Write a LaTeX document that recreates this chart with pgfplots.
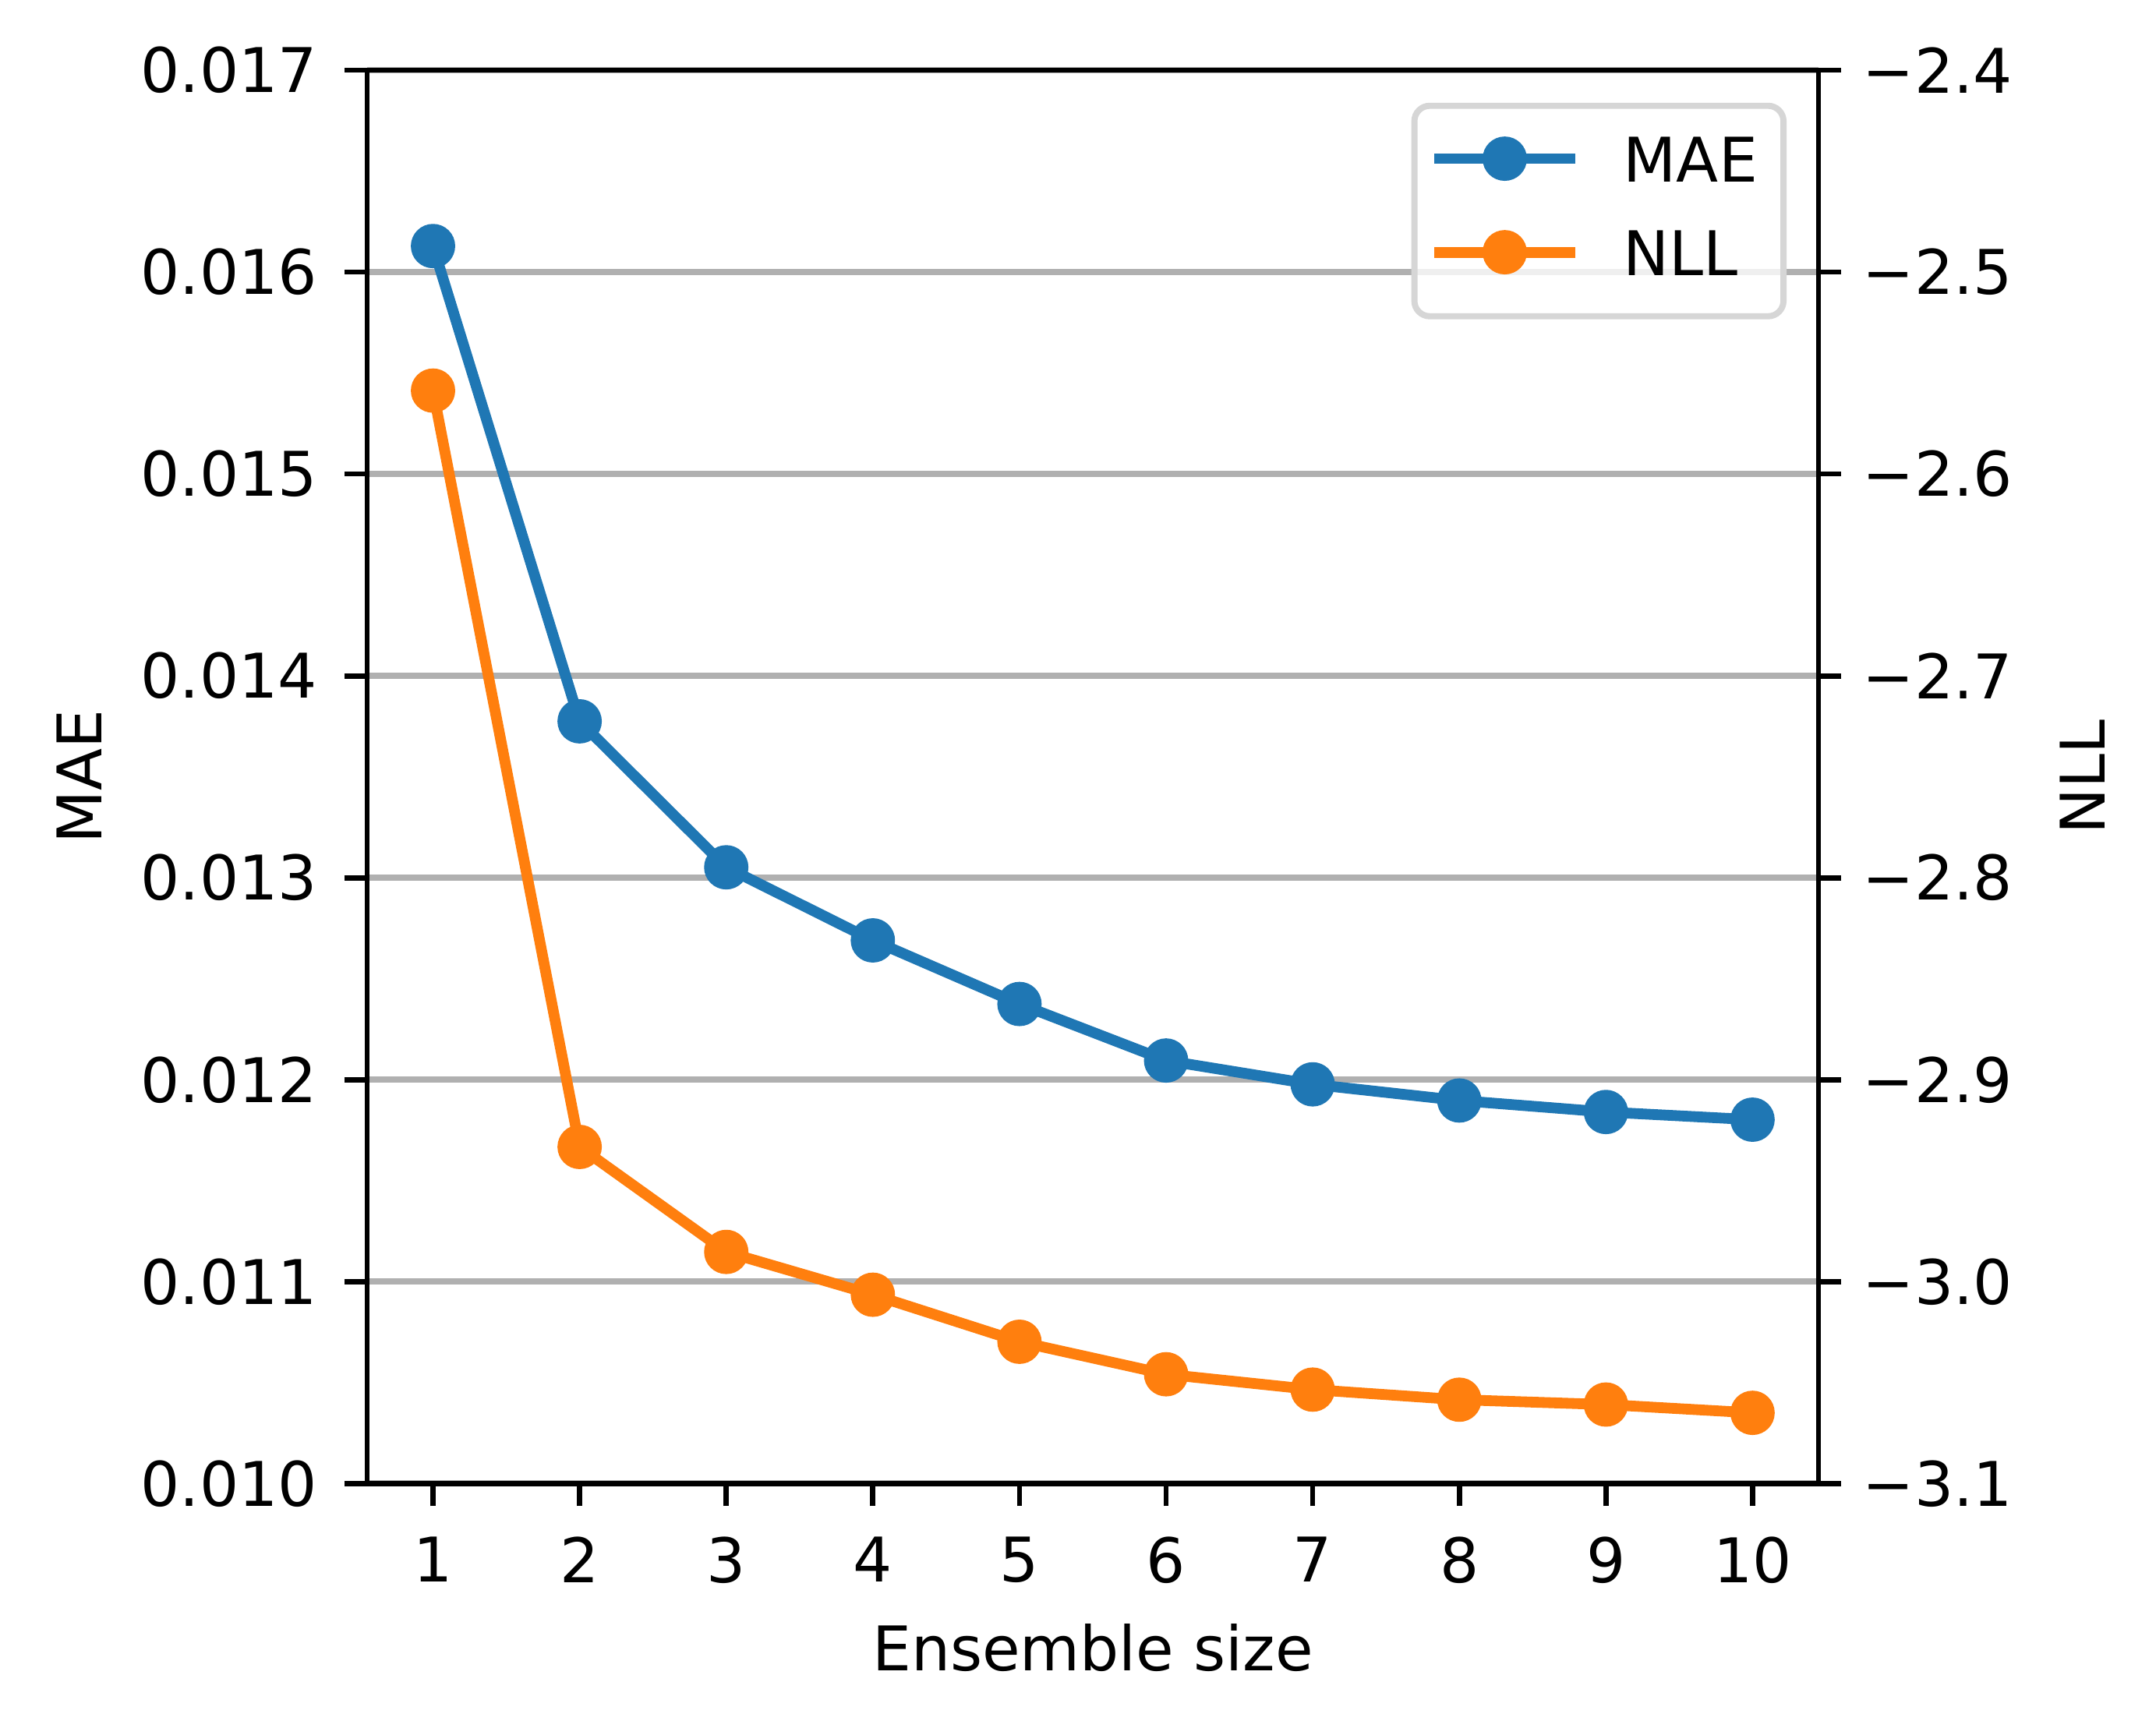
\documentclass[border=0pt]{standalone}
\usepackage{pgfplots}
\pgfplotsset{compat=1.18}
\usepackage{fontspec}
\setmainfont{DejaVu Sans}
\definecolor{c0}{HTML}{1F77B4}
\definecolor{c1}{HTML}{FF7F0E}
\definecolor{gridc}{HTML}{B0B0B0}
\definecolor{legc}{HTML}{D6D6D6}

\pgfplotstableread{
x mae
1 0.016129
2 0.013775
3 0.013052
4 0.012690
5 0.012375
6 0.012095
7 0.011977
8 0.011897
9 0.011840
10 0.011802
}\maetable

\pgfplotstableread{
x nll
1 -2.5587
2 -2.9333
3 -2.9853
4 -3.0065
5 -3.0298
6 -3.0459
7 -3.0535
8 -3.0585
9 -3.0609
10 -3.0650
}\nlltable

\begin{document}
\begin{tikzpicture}
\pgfplotsset{
  common/.style={
    scale only axis, width=235.7pt, height=229.5pt,
    xmin=0.55, xmax=10.45,
    scaled ticks=false,
    tick align=outside, major tick length=3.67pt,
    tick style={black, line width=0.85pt},
    axis line style={black, line width=0.85pt},
    every tick label/.append style={font=\fontsize{10}{12}\selectfont},
    label style={font=\fontsize{10}{12}\selectfont},
  }
}
\begin{axis}[common, name=main,
  ymin=0.010, ymax=0.017,
  tick pos=left,
  xtick={1,2,3,4,5,6,7,8,9,10},
  xticklabels={1,2,3,4,5,6,7,8,9,10},
  xticklabel style={yshift=-1.5pt},
  ytick={0.010,0.011,0.012,0.013,0.014,0.015,0.016,0.017},
  yticklabels={0.010,0.011,0.012,0.013,0.014,0.015,0.016,0.017},
  yticklabel style={xshift=-0.9pt},
  ymajorgrids=true,
  grid style={gridc, line width=1pt},
  xlabel={Ensemble size},
  xlabel style={at={(axis description cs:0.5,-0.116)}, anchor=center},
  ylabel={MAE},
  ylabel style={at={(axis description cs:-0.198,0.5)}, anchor=center},
]
\addplot[c0, line width=1.75pt, line join=round, mark=*, mark size=3.3pt,
  mark options={solid, fill=c0, line width=0.6pt}] table[x=x, y=mae] {\maetable};
\end{axis}
\begin{axis}[common,
  axis y line*=right, axis x line=none,
  ymin=-3.1, ymax=-2.4,
  ytick={-3.1,-3.0,-2.9,-2.8,-2.7,-2.6,-2.5,-2.4},
  yticklabels={−3.1,−3.0,−2.9,−2.8,−2.7,−2.6,−2.5,−2.4},
  ylabel={NLL},
  ylabel style={at={(axis description cs:1.182,0.5)}, anchor=center},
  legend image code/.code={\draw[opacity=1, fill opacity=1, mark repeat=2, mark phase=2, #1] plot coordinates {(0pt,3.8pt) (11.4pt,3.8pt) (22.8pt,3.8pt)};},
  legend cell align=left,
  legend style={at={(axis description cs:0.978,0.977)}, anchor=north east,
    draw=legc, line width=1pt, rounded corners=2.5pt,
    fill=white, fill opacity=0.8, draw opacity=1, text opacity=1,
    inner xsep=2.4pt, inner ysep=5.1pt,
    font=\fontsize{10}{12}\selectfont,
    nodes={inner sep=0pt, anchor=base west},
    row sep=6.4pt,
    /tikz/every odd column/.append style={column sep=7pt}},
]
\addlegendimage{c0, line width=1.75pt, mark=*, mark size=3.3pt, mark options={solid, fill=c0, line width=0.6pt}}
\addlegendentry{MAE\hspace*{1.8pt}}
\addplot[c1, line width=1.75pt, line join=round, mark=*, mark size=3.3pt,
  mark options={solid, fill=c1, line width=0.6pt}] table[x=x, y=nll] {\nlltable};
\addlegendentry{NLL}
\end{axis}
\pgfresetboundingbox
\path[use as bounding box] ([xshift=-59.6pt, yshift=-39.7pt]main.south west) rectangle ([xshift=54.8pt, yshift=11.4pt]main.north east);
\end{tikzpicture}
\end{document}
